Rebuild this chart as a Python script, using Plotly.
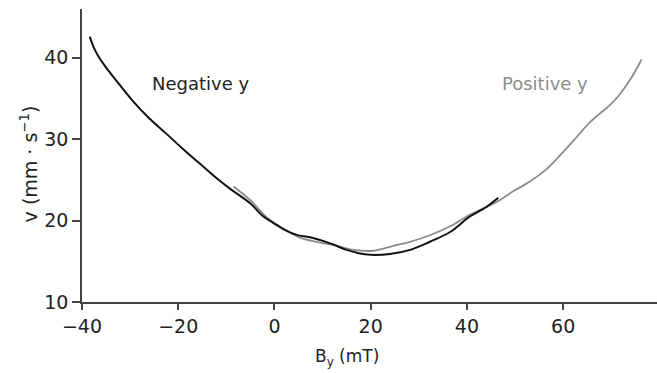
import plotly.graph_objects as go

# Negative y (black)
neg_x = [-38.4, -37.5, -36.5, -35.1, -33.0, -29.6, -26.1, -22.6, -19.2, -15.7, -12.0, -9.2, -5.0, -2.3,
         -0.2, 2.0, 4.65, 7.4, 11.6, 15.0, 17.5, 19.9, 24.0, 28.2, 32.3, 36.5, 40.6, 44.1, 46.5]
neg_y = [42.6, 41.2, 40.1, 38.9, 37.3, 34.8, 32.6, 30.75, 28.9, 27.1, 25.2, 23.9, 22.1, 20.5,
         19.7, 18.9, 18.25, 17.95, 17.2, 16.4, 16.0, 15.8, 15.9, 16.4, 17.4, 18.6, 20.5, 21.7, 22.8]

# Positive y (gray)
pos_x = [-8.5, -5.0, -1.6, 1.9, 5.3, 9.5, 13.0, 16.4, 20.6, 24.7, 28.2, 32.3, 36.5, 40.6,
         46.2, 49.6, 53.1, 56.3, 59.0, 62.1, 65.6, 69.7, 71.4, 73.9, 76.3]
pos_y = [24.2, 22.5, 20.4, 19.0, 17.9, 17.3, 16.9, 16.4, 16.3, 16.9, 17.4, 18.2, 19.3, 20.7,
         22.3, 23.6, 24.8, 26.2, 27.8, 29.8, 32.1, 34.2, 35.25, 37.3, 39.8]

x_ticks = [-40, -20, 0, 20, 40, 60]
y_ticks = [10, 20, 30, 40]

FONT = "DejaVu Sans"
AX = "#444444"

fig = go.Figure()
fig.add_trace(go.Scatter(x=pos_x, y=pos_y, mode="lines", line=dict(color="#8c8c8c", width=1.8),
                         line_shape="spline", showlegend=False))
fig.add_trace(go.Scatter(x=neg_x, y=neg_y, mode="lines", line=dict(color="#111111", width=2),
                         line_shape="spline", showlegend=False))

fig.add_annotation(x=-15.2, y=36.9, xref="x", yref="y", text="Negative y", showarrow=False,
                   font=dict(family=FONT, size=18, color="#222222"))
fig.add_annotation(x=56.2, y=36.9, xref="x", yref="y", text="Positive y", showarrow=False,
                   font=dict(family=FONT, size=18, color="#8c8c8c"))
fig.add_annotation(x=0.461, y=-0.19, xref="paper", yref="paper", text="B<sub>y</sub> (mT)",
                   showarrow=False, yanchor="middle", font=dict(family=FONT, size=17, color="#222222"))
fig.add_annotation(x=-0.092, y=0.47, xref="paper", yref="paper",
                   text="v (mm · s<sup>−1</sup>)", textangle=-90, showarrow=False,
                   xanchor="center", yanchor="middle",
                   font=dict(family=FONT, size=19, color="#222222"))

fig.update_layout(
    width=657, height=373,
    margin=dict(l=82, r=0, t=9, b=71),
    plot_bgcolor="white", paper_bgcolor="white",
    font=dict(family=FONT, size=19, color="#222222"),
)
fig.update_xaxes(range=[-40, 79.5], tickvals=x_ticks, ticktext=[str(v).replace("-", "−") for v in x_ticks],
                 showgrid=False, zeroline=False, showline=True, linecolor=AX, linewidth=1.5,
                 ticks="outside", ticklen=6, tickwidth=1.5, tickcolor=AX)
fig.update_yaxes(range=[10, 46], tickvals=y_ticks, showgrid=False, zeroline=False,
                 showline=True, linecolor=AX, linewidth=1.5,
                 ticks="outside", ticklen=8, tickwidth=1.5, tickcolor=AX)

fig.write_html("out.html")
